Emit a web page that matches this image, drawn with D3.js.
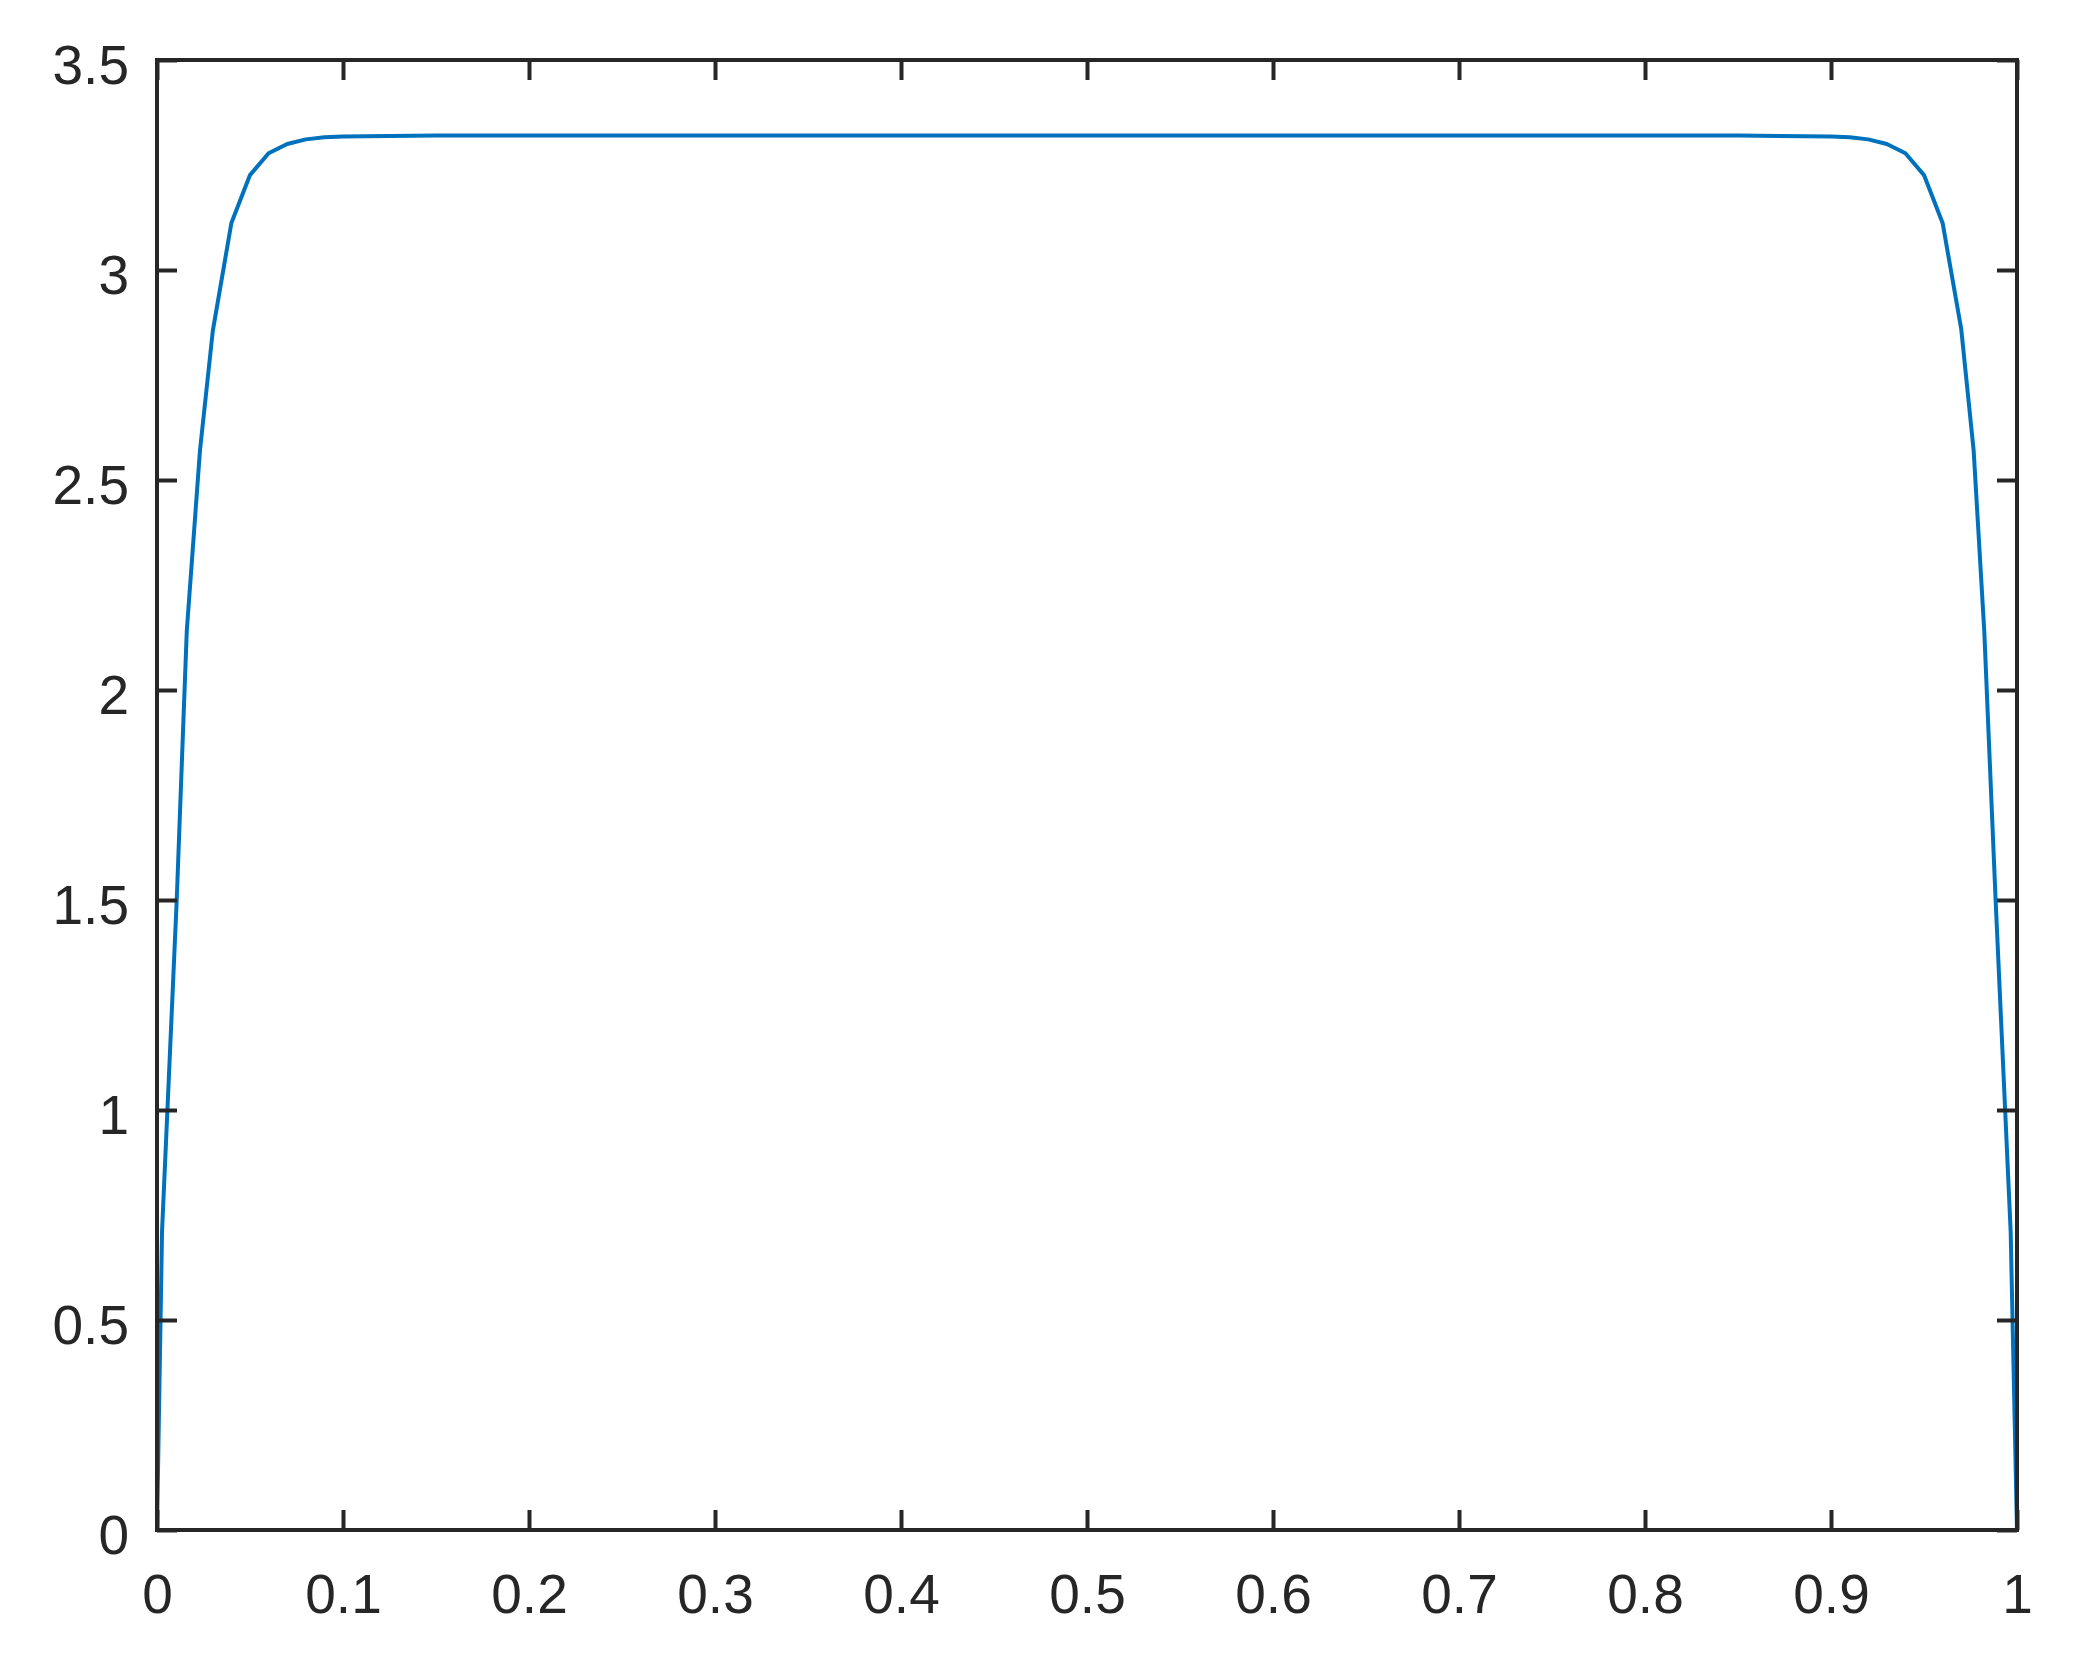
<!DOCTYPE html>
<html lang="en">
<head>
    <meta charset="UTF-8">
    <title>Profile plot</title>
    <script src="https://d3js.org/d3.v7.min.js"></script>
    <style>
        html, body {
            margin: 0;
            padding: 0;
            background: #fff;
        }
        svg text {
            font-family: "Liberation Sans", Arial, sans-serif;
        }
    </style>
</head>
<body>
    <div id="chart"></div>

    <script>
        // curve (steep near both ends, flat in the middle)
        const xValues = [0, 0.0027, 0.0066, 0.0106, 0.016, 0.0231, 0.03, 0.04, 0.05, 0.06, 0.07, 0.08, 0.09, 0.10, 0.15,
                         0.5,
                         0.85, 0.90, 0.91, 0.92, 0.93, 0.94, 0.95, 0.96, 0.97, 0.9767, 0.9824, 0.9885, 0.9926, 0.9966, 1];
        const yValues = [0, 0.71, 1.10, 1.50, 2.14, 2.57, 2.855, 3.112, 3.226, 3.278, 3.300, 3.311, 3.316, 3.318, 3.32,
                         3.32,
                         3.32, 3.318, 3.316, 3.311, 3.300, 3.278, 3.226, 3.112, 2.86, 2.57, 2.14, 1.50, 1.10, 0.71, 0];

        const xTicks = [0, 0.1, 0.2, 0.3, 0.4, 0.5, 0.6, 0.7, 0.8, 0.9, 1];
        const xTickLabels = ['0', '0.1', '0.2', '0.3', '0.4', '0.5', '0.6', '0.7', '0.8', '0.9', '1'];
        const yTicks = [0, 0.5, 1, 1.5, 2, 2.5, 3, 3.5];
        const yTickLabels = ['0', '0.5', '1', '1.5', '2', '2.5', '3', '3.5'];

        const width = 2085, height = 1654;
        const box = { left: 157, right: 2017, top: 60, bottom: 1530 };
        const axisColor = '#262626';
        const fontSize = 55;
        const tickLen = 20;

        const svg = d3.select('#chart').append('svg')
            .attr('width', width)
            .attr('height', height);

        const x = d3.scaleLinear().domain([0, 1]).range([box.left, box.right]);
        const y = d3.scaleLinear().domain([0, 3.5]).range([box.bottom, box.top]);

        const points = xValues.map((v, i) => [v, yValues[i]]);

        const line = d3.line()
            .x(d => x(d[0]))
            .y(d => y(d[1]));

        svg.append('path')
            .datum(points)
            .attr('fill', 'none')
            .attr('stroke', '#0072BD')
            .attr('stroke-width', 4)
            .attr('stroke-linejoin', 'round')
            .attr('d', line);

        function styleAxis(g) {
            g.select('.domain').remove();
            g.selectAll('.tick line')
                .attr('stroke', axisColor)
                .attr('stroke-width', 4);
            g.selectAll('.tick text')
                .attr('fill', axisColor)
                .style('font-size', fontSize + 'px');
        }

        // bottom: inward ticks + labels
        svg.append('g')
            .attr('transform', `translate(0,${box.bottom})`)
            .call(d3.axisBottom(x)
                .tickValues(xTicks)
                .tickFormat((d, i) => xTickLabels[i])
                .tickSizeInner(-tickLen)
                .tickSizeOuter(0)
                .tickPadding(44))
            .call(styleAxis);

        // top: ticks only
        svg.append('g')
            .attr('transform', `translate(0,${box.top})`)
            .call(d3.axisTop(x)
                .tickValues(xTicks)
                .tickFormat('')
                .tickSizeInner(-tickLen)
                .tickSizeOuter(0))
            .call(styleAxis);

        // left: inward ticks + labels
        svg.append('g')
            .attr('transform', `translate(${box.left},0)`)
            .call(d3.axisLeft(y)
                .tickValues(yTicks)
                .tickFormat((d, i) => yTickLabels[i])
                .tickSizeInner(-tickLen)
                .tickSizeOuter(0)
                .tickPadding(28))
            .call(styleAxis)
            .call(g => g.selectAll('.tick text').attr('dy', '0.42em'));

        // right: ticks only
        svg.append('g')
            .attr('transform', `translate(${box.right},0)`)
            .call(d3.axisRight(y)
                .tickValues(yTicks)
                .tickFormat('')
                .tickSizeInner(-tickLen)
                .tickSizeOuter(0))
            .call(styleAxis);

        // box
        svg.append('rect')
            .attr('x', box.left)
            .attr('y', box.top)
            .attr('width', box.right - box.left)
            .attr('height', box.bottom - box.top)
            .attr('fill', 'none')
            .attr('stroke', axisColor)
            .attr('stroke-width', 4);
    </script>
</body>
</html>
